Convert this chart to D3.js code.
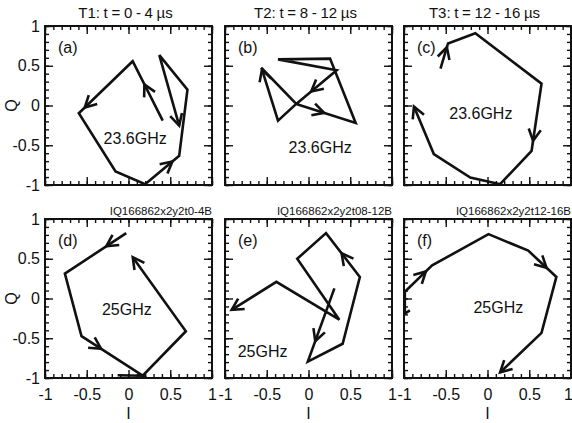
<!DOCTYPE html>
<html>
<head>
<meta charset="utf-8">
<script src="https://cdn.jsdelivr.net/npm/d3@7"></script>
<style>
  body { margin: 0; background: #fff; }
  text { font-family: "Liberation Sans", Arial, Helvetica, sans-serif; fill: #111; }
</style>
</head>
<body>
<div id="chart"></div>
<script>
// column titles, file tags, panel letters, frequency labels
const colTitles = ["T1: t = 0 - 4 µs", "T2: t = 8 - 12 µs", "T3: t = 12 - 16 µs"];
const fileTags = ["IQ166862x2y2t0-4B", "IQ166862x2y2t08-12B", "IQ166862x2y2t12-16B"];
const panelLetters = ["(a)", "(b)", "(c)", "(d)", "(e)", "(f)"];
const freqLabels = ["23.6GHz", "23.6GHz", "23.6GHz", "25GHz", "25GHz", "25GHz"];
const freqLabelPos = [[0.08, -0.42], [0.14, -0.53], [-0.08, -0.1], [-0.02, -0.14], [-0.55, -0.67], [0.13, -0.11]];

const majorTicks = [-1, -0.5, 0, 0.5, 1];
const minorTicks = [-1, -0.9, -0.8, -0.7, -0.6, -0.5, -0.4, -0.3, -0.2, -0.1, 0,
                    0.1, 0.2, 0.3, 0.4, 0.5, 0.6, 0.7, 0.8, 0.9, 1];

// I/Q trajectories, [I, Q]
const trajA = [[0.41, -0.19], [0.05, 0.557], [-0.595, -0.097], [-0.155, -0.83], [0.199, -0.99],
               [0.607, -0.633], [0.706, 0.198], [0.369, 0.633], [0.607, -0.253]];
const trajB = [[-0.147, 0.02], [0.565, -0.22], [0.258, 0.59], [-0.365, 0.58], [0.337, 0.443],
               [-0.147, 0.02], [-0.365, -0.19], [-0.563, 0.472], [-0.147, 0.02]];
const trajC = [[-0.563, 0.465], [-0.473, 0.78], [-0.146, 0.908], [0.647, 0.275], [0.528, -0.57],
               [0.151, -0.99], [-0.206, -0.907], [-0.643, -0.611], [-0.881, -0.013]];
const trajD = [[-0.027, 0.822], [-0.762, 0.313], [-0.563, -0.474], [0.17, -0.971], [-0.13, -0.965],
               [0.17, -0.971], [0.687, -0.412], [0.051, 0.52]];
const trajE = [[0.31, 0.127], [-0.008, -0.793], [0.409, -0.569], [0.615, 0.271], [0.21, 0.822],
               [-0.135, 0.5], [0.369, -0.267], [-0.385, 0.209], [-0.92, -0.143]];
const trajF = [[-0.93, -0.15], [-0.99, -0.19], [-0.99, 0.085], [-0.663, 0.416], [0.012, 0.81],
               [0.488, 0.602], [0.825, 0.271], [0.647, -0.433], [0.151, -0.93]];

// arrowheads: [segment index, position along segment]
const arrowsA = [[0, 0.61], [1, 0.89], [4, 0.8], [7, 1]];
const arrowsB = [[0, 0.47], [4, 0.63], [6, 0.97]];
const arrowsC = [[0, 0.85], [3, 0.85], [7, 1]];
const arrowsD = [[0, 0.325], [2, 0.32], [6, 1]];
const arrowsE = [[0, 0.72], [3, 0.54], [7, 1]];
const arrowsF = [[2, 0.77], [5, 0.65], [7, 1]];

const trajs = [trajA, trajB, trajC, trajD, trajE, trajF];
const arrows = [arrowsA, arrowsB, arrowsC, arrowsD, arrowsE, arrowsF];

const width = 572, height = 423;
const colX = [45, 225, 404];
const rowY = [26, 219];
const pw = 167, ph = 159;
const font = '"Liberation Sans", Arial, Helvetica, sans-serif';

const svg = d3.select("#chart").append("svg")
    .attr("width", width)
    .attr("height", height);

const x = d3.scaleLinear().domain([-1, 1]).range([0, pw]);
const y = d3.scaleLinear().domain([-1, 1]).range([ph, 0]);

const line = d3.line().x(d => x(d[0])).y(d => y(d[1]));

function styleAxis(sel, size) {
    sel.select(".domain").remove();
    sel.selectAll(".tick line").attr("stroke", "#111").attr("stroke-width", 1.4);
    sel.attr("font-size", size).attr("font-family", font);
    sel.selectAll("text").attr("fill", "#111");
}

for (let i = 0; i < 6; i++) {
    const row = Math.floor(i / 3), col = i % 3;
    const g = svg.append("g").attr("transform", `translate(${colX[col]},${rowY[row]})`);

    g.append("clipPath").attr("id", "clip" + i)
        .append("rect").attr("width", pw).attr("height", ph);

    // minor ticks, all four sides, pointing in
    const minors = [
        [d3.axisBottom(x), `translate(0,${ph})`],
        [d3.axisTop(x), "translate(0,0)"],
        [d3.axisLeft(y), "translate(0,0)"],
        [d3.axisRight(y), `translate(${pw},0)`]
    ];
    minors.forEach(([ax, tr]) => {
        g.append("g").attr("transform", tr)
            .call(ax.tickValues(minorTicks).tickSizeInner(-4).tickSizeOuter(0).tickFormat(""))
            .call(s => styleAxis(s, 16));
    });

    // major ticks
    const bottom = g.append("g").attr("transform", `translate(0,${ph})`)
        .call(d3.axisBottom(x).tickValues(majorTicks).tickSizeInner(-8).tickSizeOuter(0)
            .tickPadding(11).tickFormat(d => row === 1 ? String(d) : ""))
        .call(s => styleAxis(s, 16));
    if (col === 2) {
        // last "1" sits on the page edge
        bottom.selectAll(".tick text").filter(d => d === 1).attr("dx", -3);
    }
    g.append("g")
        .call(d3.axisTop(x).tickValues(majorTicks).tickSizeInner(-8).tickSizeOuter(0).tickFormat(""))
        .call(s => styleAxis(s, 16));
    g.append("g")
        .call(d3.axisLeft(y).tickValues(majorTicks).tickSizeInner(-8).tickSizeOuter(0)
            .tickPadding(5).tickFormat(d => col === 0 ? String(d) : ""))
        .call(s => styleAxis(s, 16));
    g.append("g").attr("transform", `translate(${pw},0)`)
        .call(d3.axisRight(y).tickValues(majorTicks).tickSizeInner(-8).tickSizeOuter(0).tickFormat(""))
        .call(s => styleAxis(s, 16));

    g.append("rect")
        .attr("width", pw).attr("height", ph)
        .attr("fill", "none").attr("stroke", "#111").attr("stroke-width", 2);

    const plot = g.append("g").attr("clip-path", `url(#clip${i})`);

    plot.append("path")
        .datum(trajs[i])
        .attr("d", line)
        .attr("fill", "none")
        .attr("stroke", "#111")
        .attr("stroke-width", 2.6)
        .attr("stroke-linejoin", "miter");

    plot.selectAll(".arrow")
        .data(arrows[i])
        .enter()
        .append("path")
        .attr("class", "arrow")
        .attr("d", a => {
            const p0 = trajs[i][a[0]], p1 = trajs[i][a[0] + 1];
            const x0 = x(p0[0]), y0 = y(p0[1]), x1 = x(p1[0]), y1 = y(p1[1]);
            const tx = x0 + a[1] * (x1 - x0), ty = y0 + a[1] * (y1 - y0);
            const ang = Math.atan2(y1 - y0, x1 - x0);
            const L = 13, spread = 28 * Math.PI / 180;
            const b1 = [tx - L * Math.cos(ang - spread), ty - L * Math.sin(ang - spread)];
            const b2 = [tx - L * Math.cos(ang + spread), ty - L * Math.sin(ang + spread)];
            return `M${b1[0]},${b1[1]}L${tx},${ty}L${b2[0]},${b2[1]}`;
        })
        .attr("fill", "none")
        .attr("stroke", "#111")
        .attr("stroke-width", 2.6);

    g.append("text")
        .attr("x", 13).attr("y", 27)
        .style("font-size", "16px")
        .text(panelLetters[i]);

    g.append("text")
        .attr("x", x(freqLabelPos[i][0]))
        .attr("y", y(freqLabelPos[i][1]))
        .attr("text-anchor", "middle")
        .attr("dominant-baseline", "central")
        .style("font-size", "16px")
        .text(freqLabels[i]);
}

colTitles.forEach((t, c) => {
    svg.append("text")
        .attr("x", colX[c] + pw / 2 - 3)
        .attr("y", 18)
        .attr("text-anchor", "middle")
        .style("font-size", "15px")
        .style("word-spacing", "-0.5px")
        .text(t);
});

fileTags.forEach((t, c) => {
    svg.append("text")
        .attr("x", colX[c] + pw)
        .attr("y", rowY[1] - 4)
        .attr("text-anchor", "end")
        .style("font-size", "11.5px")
        .text(t);
});

rowY.forEach(r => {
    svg.append("text")
        .attr("transform", `translate(17,${r + ph / 2}) rotate(-90)`)
        .attr("text-anchor", "middle")
        .style("font-size", "16px")
        .text("Q");
});

colX.forEach(c => {
    svg.append("text")
        .attr("x", c + pw / 2)
        .attr("y", 419)
        .attr("text-anchor", "middle")
        .style("font-size", "16px")
        .text("I");
});
</script>
</body>
</html>
